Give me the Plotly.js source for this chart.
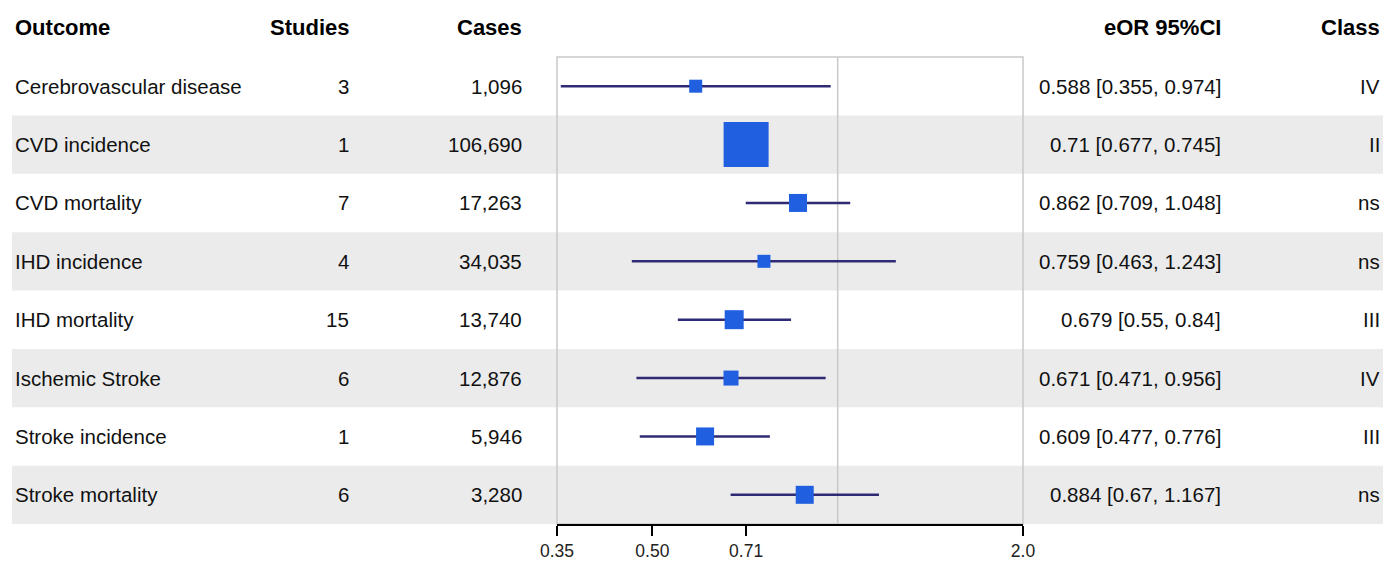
<!DOCTYPE html>
<html>
<head>
<meta charset="utf-8">
<script src="https://cdn.plot.ly/plotly-3.0.1.min.js"></script>
<style>html,body{margin:0;padding:0;background:#fff;}#chart{width:1385px;height:563px;}</style>
</head>
<body>
<div id="chart"></div>
<script>
var outcomes = ["Cerebrovascular disease","CVD incidence","CVD mortality","IHD incidence","IHD mortality","Ischemic Stroke","Stroke incidence","Stroke mortality"];
var studies = [3, 1, 7, 4, 15, 6, 1, 6];
var cases = ["1,096","106,690","17,263","34,035","13,740","12,876","5,946","3,280"];
var eor = [0.588, 0.71, 0.862, 0.759, 0.679, 0.671, 0.609, 0.884];
var ciLow = [0.355, 0.677, 0.709, 0.463, 0.55, 0.471, 0.477, 0.67];
var ciHigh = [0.974, 0.745, 1.048, 1.243, 0.84, 0.956, 0.776, 1.167];
var classes = ["IV","II","ns","ns","III","IV","III","ns"];
var tickVals = [0.35, 0.50, 0.71, 2.0];
var tickText = ["0.35","0.50","0.71","2.0"];
var boxSize = [13, 45, 18, 13, 19, 15, 18, 18];

var W = 1385, H = 563, T = 57, B = 39;
var plotH = H - T - B;
function px(x){ return x / W; }
function py(y){ return (H - B - y) / plotH; }

var idx = outcomes.map(function(_, i){ return i; });
var ciText = eor.map(function(v, i){ return v + " [" + ciLow[i] + ", " + ciHigh[i] + "]"; });

var traces = [
  {
    x: [1, 1], y: [-0.5, 7.5], mode: "lines", type: "scatter",
    line: {color: "#c9c9c9", width: 1.5}, hoverinfo: "skip", showlegend: false
  },
  {
    x: eor, y: idx, type: "scatter", mode: "markers",
    marker: {symbol: "square", size: boxSize, color: "#1f5fe0", opacity: 1, line: {width: 0}},
    error_x: {
      type: "data", symmetric: false,
      array: eor.map(function(v, i){ return ciHigh[i] - v; }),
      arrayminus: eor.map(function(v, i){ return v - ciLow[i]; }),
      width: 0, thickness: 2.5, color: "#2e2b74"
    },
    hoverinfo: "skip", showlegend: false, cliponaxis: false
  }
];

var shapes = [];
idx.forEach(function(i){
  if (i % 2 === 1) {
    shapes.push({type: "rect", layer: "below", xref: "paper", yref: "y",
      x0: px(12), x1: px(1383), y0: i - 0.5, y1: i + 0.5,
      fillcolor: "#ebebeb", line: {width: 0}});
  }
});
shapes.push({type: "rect", layer: "below", xref: "x domain", yref: "paper",
  x0: 0, x1: 1, y0: 0, y1: 1, fillcolor: "rgba(0,0,0,0)",
  line: {color: "#c9c9c9", width: 1.5}});

var bodyFont = {family: "Liberation Sans, Arial, sans-serif", size: 20.5, color: "#111"};
var headFont = {family: "Liberation Sans, Arial, sans-serif", size: 22, color: "#000", weight: "bold"};

var cols = [
  {x: 13, anchor: "left", head: "Outcome", vals: outcomes},
  {x: 351, anchor: "right", head: "Studies", vals: studies.map(String)},
  {x: 524, anchor: "right", head: "Cases", vals: cases},
  {x: 1223, anchor: "right", head: "eOR 95%CI", vals: ciText},
  {x: 1382, anchor: "right", head: "Class", vals: classes}
];

var annotations = [];
cols.forEach(function(c){
  annotations.push({xref: "paper", yref: "paper", x: px(c.x), y: py(28),
    text: "<b>" + c.head + "</b>", showarrow: false, xanchor: c.anchor, yanchor: "middle",
    font: headFont});
  c.vals.forEach(function(v, i){
    annotations.push({xref: "paper", yref: "y", x: px(c.x), y: i,
      text: v, showarrow: false, xanchor: c.anchor, yanchor: "middle", font: bodyFont});
  });
});

var layout = {
  width: W, height: H,
  margin: {l: 0, r: 0, t: T, b: B, pad: 0},
  paper_bgcolor: "#fff", plot_bgcolor: "rgba(0,0,0,0)",
  showlegend: false,
  xaxis: {
    type: "log", range: [Math.log10(0.35), Math.log10(2)],
    domain: [px(557), px(1023)],
    tickvals: tickVals, ticktext: tickText,
    ticks: "outside", ticklen: 10, tickwidth: 2, tickcolor: "#000",
    showline: true, linecolor: "#000", linewidth: 2,
    showgrid: false, zeroline: false, fixedrange: true,
    tickfont: {family: "Liberation Sans, Arial, sans-serif", size: 17.5, color: "#222"}
  },
  yaxis: {
    range: [7.5, -0.5], visible: false, showgrid: false, zeroline: false, fixedrange: true
  },
  shapes: shapes,
  annotations: annotations,
  hovermode: false
};

Plotly.newPlot("chart", traces, layout, {displayModeBar: false, staticPlot: true});
</script>
</body>
</html>
